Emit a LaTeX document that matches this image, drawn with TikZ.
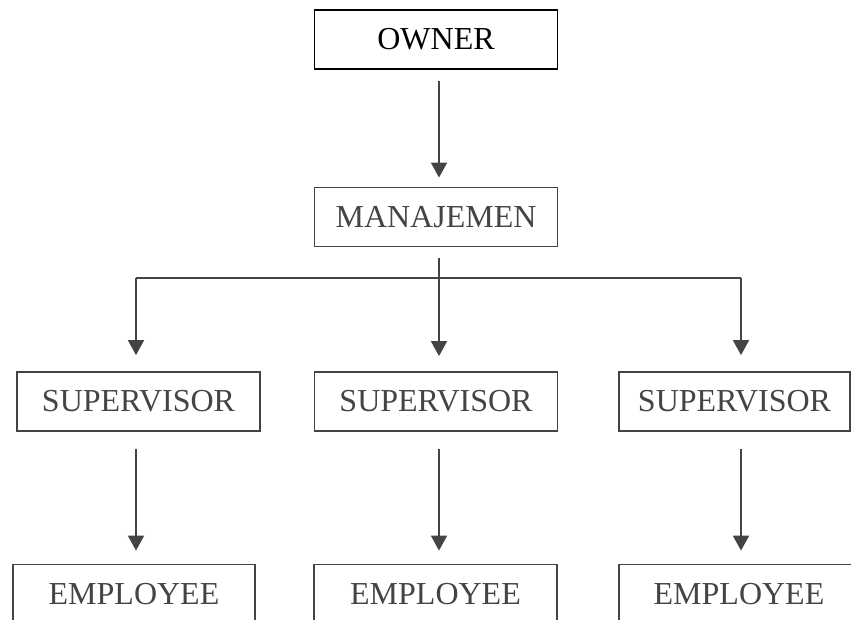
\documentclass[tikz,border=0pt]{standalone}
\usepackage{fontspec}
\setmainfont{Liberation Serif}
\usepackage{tikz}
\usetikzlibrary{calc}
\usetikzlibrary{arrows.meta}
\usetikzlibrary{positioning}
\definecolor{charcoal}{RGB}{68, 68, 68}

\begin{document}
\begin{tikzpicture}[x=1pt, y=1pt,
        unitbox/.style={draw=charcoal, text=charcoal, line width=1.8pt, inner sep=0pt,
                        minimum width=243pt, minimum height=59pt,
                        font=\fontsize{32}{38}\selectfont},
        link/.style={draw=charcoal, line width=1.8pt},
        arr/.style={link, -{Triangle[width=16pt, length=15pt]}}]
            % Frame to fix the page size
            \clip                                   (  0.0,    0.0) rectangle (851.0, -620.0);
            \fill[white]                            (  0.0,    0.0) rectangle (851.0, -620.0);
            % Columns of the connectors
            \coordinate (colA) at (136, -278);
            \coordinate (colB) at (439, -278);
            \coordinate (colC) at (741, -278);
            % Top levels
            \node[unitbox, draw=black, text=black] (owner)     at (436.0,  -39.5) {OWNER};
            \node[unitbox]                         (manajemen) at (436.0, -217.0) {MANAJEMEN};
            % Supervisors
            \node[unitbox]                         (supA)      at (138.5, -401.5) {SUPERVISOR};
            \node[unitbox]                         (supB)      at (436.0, -401.5) {SUPERVISOR};
            \node[unitbox, minimum width=231pt]    (supC)      at (734.5, -401.5) {SUPERVISOR};
            % Employees
            \node[unitbox, minimum width=242pt]    (empA)      at (134.0, -594.0) {EMPLOYEE};
            \node[unitbox]                         (empB)      at (435.5, -594.0) {EMPLOYEE};
            \node[unitbox, minimum width=240pt]    (empC)      at (739.0, -594.0) {EMPLOYEE};
            % Owner to management
            \draw[arr, shorten <=11pt, shorten >=9pt]  (colB |- owner.south)     -- (colB |- manajemen.north);
            % Management to supervisors
            \draw[link]                                (colA)                    -- (colC);
            \draw[arr, shorten <=11pt, shorten >=15pt] (colB |- manajemen.south) -- (colB |- supB.north);
            \draw[arr, shorten >=16pt]                 (colA)                    -- (colA |- supA.north);
            \draw[arr, shorten >=16pt]                 (colC)                    -- (colC |- supC.north);
            % Supervisors to employees
            \draw[arr, shorten <=17pt, shorten >=13pt] (colA |- supA.south)      -- (colA |- empA.north);
            \draw[arr, shorten <=17pt, shorten >=13pt] (colB |- supB.south)      -- (colB |- empB.north);
            \draw[arr, shorten <=17pt, shorten >=13pt] (colC |- supC.south)      -- (colC |- empC.north);
        \end{tikzpicture}
\end{document}
